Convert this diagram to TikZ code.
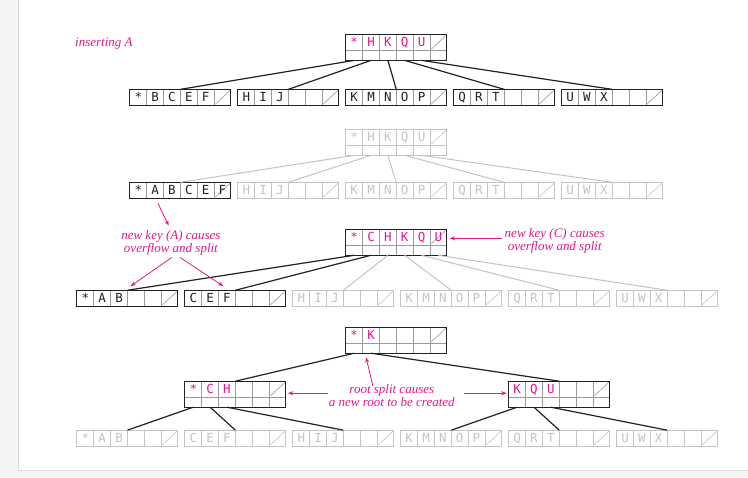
\documentclass[tikz,border=0pt]{standalone}
\usepackage{fontspec}
\setmainfont{Liberation Serif}
\newfontfamily\keyfont{DejaVu Sans Mono}
\usetikzlibrary{calc,arrows.meta}
\definecolor{hot}{HTML}{E6178A}
\definecolor{ink}{HTML}{222222}
\definecolor{mid}{HTML}{9A9A9A}
\definecolor{pale}{HTML}{C4C4C4}
\definecolor{bgl}{HTML}{F4F4F4}
\definecolor{rim}{HTML}{DADADA}
\tikzset{
  edge/.style={ink, line width=1.2pt},
  gedge/.style={pale, line width=1pt},
  ann/.style={hot, line width=0.8pt, -{Stealth[length=5.5pt,width=4pt]}},
  note/.style={text=hot, font=\itshape\fontsize{13}{13}\selectfont, align=center, inner sep=0pt},
  keytext/.style={font=\keyfont\fontsize{12.5}{13}\selectfont, anchor=base, inner sep=0pt}
}
% #1 name, #2 x, #3 y, #4 height, #5 frame colour, #6 divider colour, #7 text colour, #8 keys
\newcommand{\BN}[8]{%
 \begin{scope}[shift={(#2,#3)}]
  \foreach \i in {1,...,5}{\draw[#6, line width=0.6pt] (\i*16.833,0) -- (\i*16.833,#4);}
  \ifnum#4>20\relax \draw[#6, line width=0.6pt] (0,16) -- (101,16);\fi
  \draw[#6, line width=0.6pt] (85.7,14.5) -- (100,1.2);
  \foreach \k [count=\j from 0] in {#8}{\node[keytext, text=#7] (#1-k\j) at (8.42+\j*16.833,12.6) {\k};}
  \node[draw=#5, line width=1pt, minimum width=101pt, minimum height=#4pt, inner sep=0pt, outer sep=0pt, anchor=north west] (#1) at (0,0) {};
  \foreach \j in {0,...,5}{\coordinate (#1-p\j) at (8.42+\j*16.833,#4);}
 \end{scope}}

\begin{document}
\begin{tikzpicture}[x=1pt,y=-1pt]
\fill[bgl] (0,0) rectangle (748,477);
\fill[white] (18,0) rectangle (748,470);
\draw[rim, line width=0.8pt] (18,0) -- (18,470) -- (748,470);
\useasboundingbox (0,0) rectangle (748,477);

\node[note, anchor=west] (title) at (75,43) {inserting A};

% ---------- tree 1
\BN{r1}{346}{34}{26}{ink}{mid}{hot}{*,H,K,Q,U}
\BN{a1}{130}{89}{16}{ink}{mid}{ink}{*,B,C,E,F}
\BN{b1}{238}{89}{16}{ink}{mid}{ink}{H,I,J}
\BN{c1}{346}{89}{16}{ink}{mid}{ink}{K,M,N,O,P}
\BN{d1}{454}{89}{16}{ink}{mid}{ink}{Q,R,T}
\BN{e1}{562}{89}{16}{ink}{mid}{ink}{U,W,X}
\foreach \s/\t in {0/a1,1/b1,2/c1,3/d1,4/e1} \draw[edge] (r1-p\s) -- (\t.north);

% ---------- tree 2
\BN{r2}{346}{129}{26}{pale}{pale}{pale}{*,H,K,Q,U}
\BN{a2}{130}{182}{16}{ink}{mid}{ink}{*,A,B,C,E,F}
\BN{b2}{238}{182}{16}{pale}{pale}{pale}{H,I,J}
\BN{c2}{346}{182}{16}{pale}{pale}{pale}{K,M,N,O,P}
\BN{d2}{454}{182}{16}{pale}{pale}{pale}{Q,R,T}
\BN{e2}{562}{182}{16}{pale}{pale}{pale}{U,W,X}
\foreach \s/\t in {0/a2,1/b2,2/c2,3/d2,4/e2} \draw[gedge] (r2-p\s) -- (\t.north);

% ---------- tree 3
\BN{r3}{346}{229}{26}{ink}{mid}{hot}{*,C,H,K,Q,U}
\BN{a3}{77}{290}{16}{ink}{mid}{ink}{*,A,B}
\BN{b3}{185}{290}{16}{ink}{mid}{ink}{C,E,F}
\BN{c3}{293}{290}{16}{pale}{pale}{pale}{H,I,J}
\BN{d3}{401}{290}{16}{pale}{pale}{pale}{K,M,N,O,P}
\BN{e3}{509}{290}{16}{pale}{pale}{pale}{Q,R,T}
\BN{f3}{617}{290}{16}{pale}{pale}{pale}{U,W,X}
\foreach \s/\t in {2/c3,3/d3,4/e3,5/f3} \draw[gedge] (r3-p\s) -- (\t.north);
\foreach \s/\t in {0/a3,1/b3} \draw[edge] (r3-p\s) -- (\t.north);

% ---------- tree 4
\BN{r4}{346}{327}{26}{ink}{mid}{hot}{*,K}
\BN{x4}{185}{381}{26}{ink}{mid}{hot}{*,C,H}
\BN{y4}{509}{381}{26}{ink}{mid}{hot}{K,Q,U}
\BN{a4}{77}{430}{16}{pale}{pale}{pale}{*,A,B}
\BN{b4}{185}{430}{16}{pale}{pale}{pale}{C,E,F}
\BN{c4}{293}{430}{16}{pale}{pale}{pale}{H,I,J}
\BN{d4}{401}{430}{16}{pale}{pale}{pale}{K,M,N,O,P}
\BN{e4}{509}{430}{16}{pale}{pale}{pale}{Q,R,T}
\BN{f4}{617}{430}{16}{pale}{pale}{pale}{U,W,X}
\draw[edge] (r4-p0) -- (x4.north);
\draw[edge] (r4-p1) -- (y4.north);
\foreach \s/\t in {0/a4,1/b4,2/c4} \draw[edge] (x4-p\s) -- (\t.north);
\foreach \s/\t in {0/d4,1/e4,2/f4} \draw[edge] (y4-p\s) -- (\t.north);

% ---------- notes
\node[note] (nA) at (171,242.5) {new key (A) causes\\overflow and split};
\node[note] (nC) at (555,240.5) {new key (C) causes\\overflow and split};
\node[note] (nR) at (392,395) {root split causes\\a new root to be created};

\coordinate (qA) at (158,203);
\draw[ann, shorten >=5pt] (qA) -- (nA.north);
\draw[ann] ($(nA.south)+(1,2)$) -- ($(a3.north)+(3,-4)$);
\draw[ann] ($(nA.south)+(9,2)$) -- ($(b3.north)+(-12,-4)$);
\draw[ann] ($(nC.west)+(-3,-2.5)$) -- ($(r3.north east)+(3,9)$);
\draw[ann] ($(nR.north)+(-19,2)$) -- ($(r4-p1)+(-5,4)$);
\draw[ann] ($(nR.west)+(-1,-2)$) -- ($(x4.east)+(2,-1)$);
\draw[ann] ($(nR.east)+(9,-2)$) -- ($(y4.west)+(-2,-1)$);
\end{tikzpicture}
\end{document}
